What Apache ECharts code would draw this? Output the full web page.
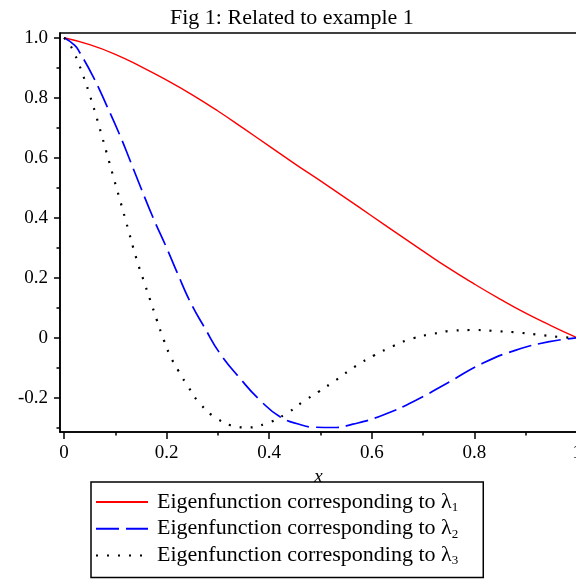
<!DOCTYPE html>
<html>
<head>
<meta charset="utf-8">
<script src="https://cdn.jsdelivr.net/npm/echarts@6/dist/echarts.min.js"></script>
<style>html,body{margin:0;padding:0;background:#fff;}#c{width:576px;height:579px;}</style>
</head>
<body>
<div id="c"></div>
<script>
// ---- data ----
const titleText = 'Fig 1: Related to example 1';
const xName = 'x';
const xMajorTicks = [0, 0.2, 0.4, 0.6, 0.8, 1];
const xMinorTicks = [0.1, 0.3, 0.5, 0.7, 0.9];
const yMajorTicks = [-0.2, 0, 0.2, 0.4, 0.6, 0.8, 1.0];
const yMinorTicks = [-0.3, -0.1, 0.1, 0.3, 0.5, 0.7, 0.9];

const seriesNames = ['lambda1', 'lambda2', 'lambda3'];
const legendPrefix = 'Eigenfunction corresponding to';
const legendSubs = ['1', '2', '3'];

const redX = [0, 0.05, 0.1, 0.15, 0.2, 0.25, 0.3, 0.35, 0.4, 0.45, 0.5, 0.55, 0.6, 0.65, 0.7, 0.75, 0.8, 0.85, 0.9, 0.95, 1.0];
const redY = [1.0, 0.977, 0.945, 0.904, 0.859, 0.810, 0.756, 0.698, 0.639, 0.580, 0.523, 0.465, 0.406, 0.347, 0.289, 0.232, 0.179, 0.129, 0.082, 0.040, 0.0];

const blueX = [0, 0.021, 0.031, 0.057, 0.083, 0.109, 0.129, 0.151, 0.174, 0.2, 0.22, 0.246, 0.275, 0.304, 0.343, 0.382, 0.421, 0.46, 0.49, 0.524, 0.563, 0.621, 0.686, 0.751, 0.816, 0.881, 0.946, 1.0];
const blueY = [1.0, 0.975, 0.950, 0.870, 0.775, 0.675, 0.590, 0.495, 0.399, 0.300, 0.220, 0.120, 0.031, -0.052, -0.135, -0.208, -0.263, -0.289, -0.298, -0.299, -0.288, -0.258, -0.208, -0.147, -0.085, -0.041, -0.013, 0.0];

const blackX = [0, 0.012, 0.021, 0.03, 0.038, 0.051, 0.064, 0.075, 0.086, 0.097, 0.109, 0.12, 0.142, 0.155, 0.168, 0.181, 0.194, 0.207, 0.223, 0.242, 0.265, 0.298, 0.337, 0.356, 0.395, 0.434, 0.466, 0.496, 0.53, 0.569, 0.605, 0.641, 0.68, 0.719, 0.761, 0.803, 0.845, 0.888, 0.93, 0.972, 1.0];
const blackY = [1.0, 0.975, 0.945, 0.908, 0.871, 0.805, 0.732, 0.666, 0.599, 0.532, 0.460, 0.393, 0.259, 0.192, 0.126, 0.059, -0.005, -0.060, -0.110, -0.163, -0.219, -0.269, -0.296, -0.299, -0.285, -0.252, -0.213, -0.180, -0.141, -0.094, -0.058, -0.028, -0.002, 0.013, 0.024, 0.026, 0.022, 0.017, 0.009, 0.002, 0.0];

function pairs(xs, ys) { return xs.map((x, i) => [x, ys[i]]); }

const FONT = 'Liberation Serif';
const chart = echarts.init(document.getElementById('c'), null, {renderer: 'canvas'});

function xFmt(v) { return Math.abs(v) < 1e-9 ? '0' : (Math.abs(v - 1) < 1e-9 ? '1' : v.toFixed(1)); }
function yFmt(v) { return Math.abs(v) < 1e-9 ? '0' : v.toFixed(1); }

const xMin = -0.0078, xMax = 1.0, yMin = -0.314, yMax = 1.016;

chart.setOption({
  animation: false,
  backgroundColor: '#fff',
  title: {
    text: titleText, left: 170, top: 7, padding: 0,
    textStyle: {fontFamily: FONT, fontSize: 22, fontWeight: 'normal', color: '#000'}
  },
  grid: {left: 60, top: 33, width: 517, bottom: 147, show: true, borderColor: '#000', borderWidth: 1.5,
         backgroundColor: 'transparent', containLabel: false, outerBoundsMode: 'none'},
  legend: {
    orient: 'vertical', left: 91, top: 482,
    padding: [8, 25, 10, 4],
    itemWidth: 52, itemHeight: 14, itemGap: 2.7,
    borderColor: '#000', borderWidth: 1.5,
    selectedMode: false,
    data: seriesNames,
    itemStyle: {opacity: 0, borderWidth: 0},
    formatter: function (name) {
      const i = seriesNames.indexOf(name);
      return legendPrefix + ' {l|\u03bb}{s|' + legendSubs[i] + '}';
    },
    textStyle: {
      fontFamily: FONT, fontSize: 22, color: '#000', lineHeight: 24, padding: [0, 0, 0, 4],
      rich: {
        l: {fontFamily: FONT, fontSize: 22, color: '#000', lineHeight: 24},
        s: {fontFamily: FONT, fontSize: 13, color: '#000', lineHeight: 12, verticalAlign: 'bottom'}
      }
    }
  },
  xAxis: [
    {
      type: 'value', min: xMin, max: xMax, position: 'bottom', gridIndex: 0,
      name: xName, nameLocation: 'middle', nameGap: 32,
      nameTextStyle: {fontFamily: FONT, fontSize: 19, fontStyle: 'italic', color: '#000'},
      axisLine: {show: true, onZero: false, lineStyle: {color: '#000', width: 1.6}},
      axisTick: {show: true, customValues: xMajorTicks, length: 7, inside: false, lineStyle: {color: '#000', width: 1.5}},
      axisLabel: {show: true, customValues: xMajorTicks, formatter: xFmt, margin: 12, fontFamily: FONT, fontSize: 19, color: '#000', showMinLabel: true, showMaxLabel: true, hideOverlap: false},
      splitLine: {show: false}
    },
    {
      type: 'value', min: xMin, max: xMax, position: 'bottom', gridIndex: 0,
      axisLine: {show: false, onZero: false},
      axisTick: {show: true, customValues: xMinorTicks, length: 3.5, lineStyle: {color: '#000', width: 1.5}},
      axisLabel: {show: false},
      splitLine: {show: false}
    }
  ],
  yAxis: [
    {
      type: 'value', min: yMin, max: yMax, position: 'left', gridIndex: 0,
      axisLine: {show: true, onZero: false, lineStyle: {color: '#000', width: 1.6}},
      axisTick: {show: true, customValues: yMajorTicks, length: 6, lineStyle: {color: '#000', width: 1.5}},
      axisLabel: {show: true, customValues: yMajorTicks, formatter: yFmt, margin: 12, fontFamily: FONT, fontSize: 19, color: '#000'},
      splitLine: {show: false}
    },
    {
      type: 'value', min: yMin, max: yMax, position: 'left', gridIndex: 0,
      axisLine: {show: false, onZero: false},
      axisTick: {show: true, customValues: yMinorTicks, length: 3.5, lineStyle: {color: '#000', width: 1.5}},
      axisLabel: {show: false},
      splitLine: {show: false}
    }
  ],
  series: [
    {name: seriesNames[0], type: 'line', xAxisIndex: 0, yAxisIndex: 0, data: pairs(redX, redY), smooth: 0.5, symbol: 'none',
     lineStyle: {color: '#ff0000', width: 1.4, type: 'solid'}, itemStyle: {color: '#ff0000'}},
    {name: seriesNames[1], type: 'line', xAxisIndex: 0, yAxisIndex: 0, data: pairs(blueX, blueY), smooth: 0.5, symbol: 'none',
     lineStyle: {color: '#0000ff', width: 1.7, type: [23, 7]}, itemStyle: {color: '#0000ff'}},
    {name: seriesNames[2], type: 'line', xAxisIndex: 0, yAxisIndex: 0, data: pairs(blackX, blackY), smooth: 0.5, symbol: 'none',
     lineStyle: {color: '#000000', width: 2.2, type: [2, 9]}, itemStyle: {color: '#000000'}}
  ]
});
</script>
</body>
</html>
